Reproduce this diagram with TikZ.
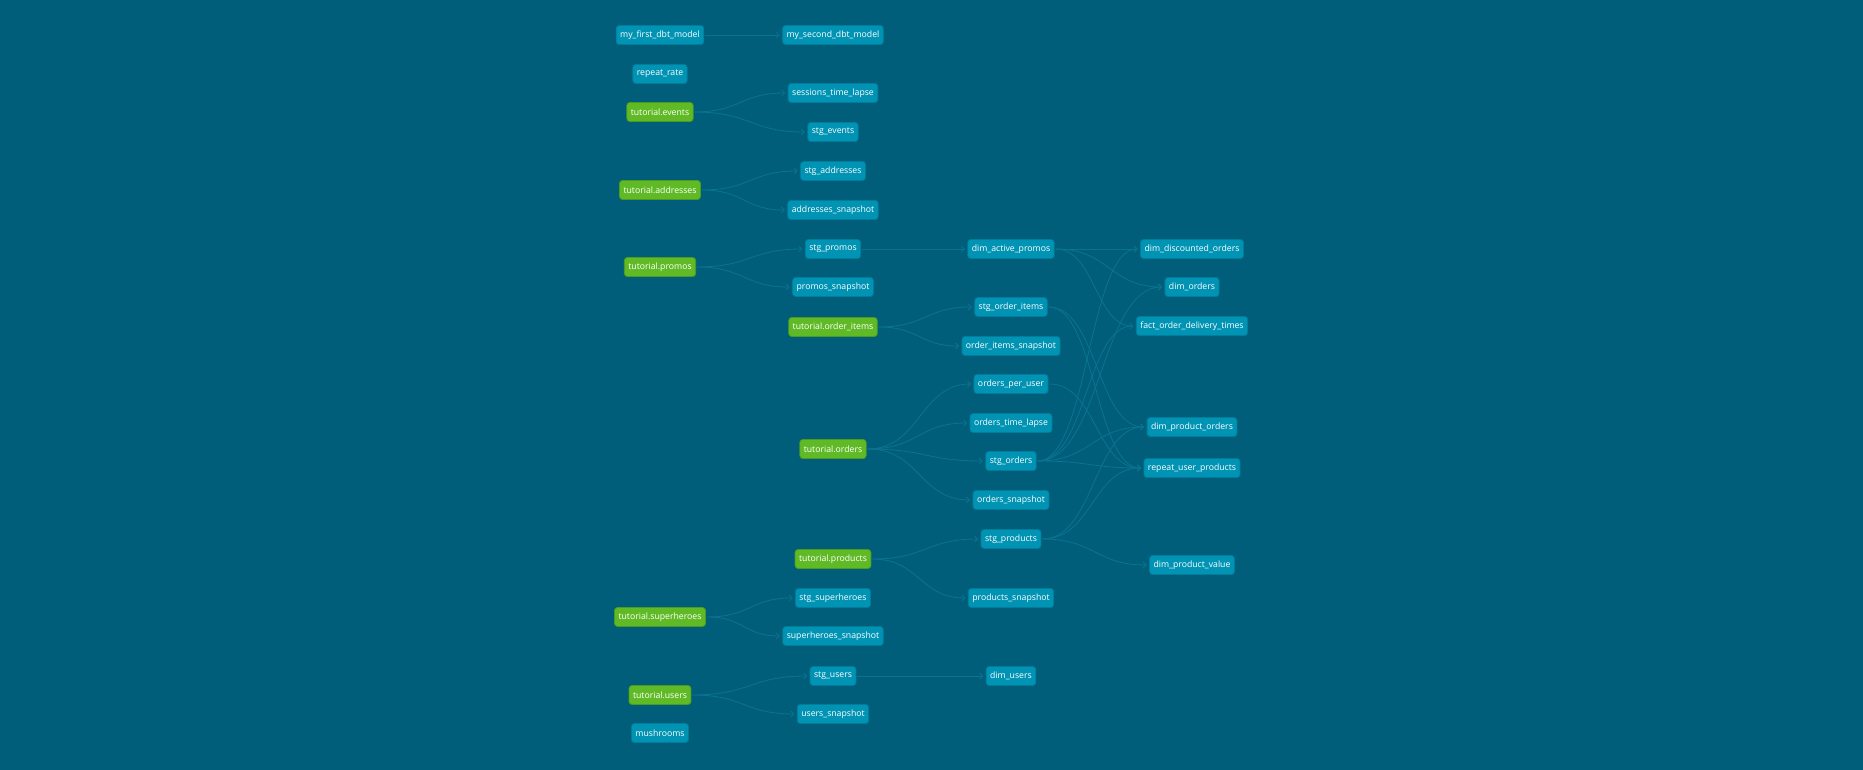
\documentclass[tikz,border=0pt]{standalone}
\usepackage{fontspec}
\setmainfont{Open Sans}
\usetikzlibrary{arrows.meta,calc}
\definecolor{bg}{HTML}{005E7A}
\definecolor{nodeblue}{HTML}{0093B3}
\definecolor{nodeblueborder}{HTML}{007D9A}
\definecolor{nodegreen}{HTML}{5FBA26}
\definecolor{nodegreenborder}{HTML}{4C9A1F}
\definecolor{edgecol}{HTML}{0A7390}
\begin{document}
\begin{tikzpicture}[x=1pt,y=-1pt,
  model/.style={rectangle, rounded corners=3pt, fill=nodeblue, draw=nodeblueborder, line width=0.8pt, text=white, font=\fontsize{8.7}{10}\selectfont, inner xsep=4pt, inner ysep=0pt, minimum height=19pt},
  source/.style={model, fill=nodegreen, draw=nodegreenborder},
  dep/.style={draw=edgecol, line width=0.85pt, -{Straight Barb[length=3pt,width=6pt]}, shorten >=2.5pt, shorten <=1pt},
  sflow/.style={to path={let \p1=(\tikztostart), \p2=(\tikztotarget) in .. controls ({(\x1+\x2)/2},\y1) and ({(\x1+\x2)/2},\y2) .. (\tikztotarget) \tikztonodes}}
]
\fill[bg] (0,0) rectangle (1863,770);
\useasboundingbox (0,0) rectangle (1863,770);

% column 1
\node[model]  (first)   at (660,35)  {my\_first\_dbt\_model};
\node[model]  (repeat)  at (660,74)  {repeat\_rate};
\node[source] (tevents) at (660,112) {tutorial.events};
\node[source] (taddr)   at (660,190) {tutorial.addresses};
\node[source] (tpromos) at (660,267) {tutorial.promos};
\node[source] (tsuper)  at (660,617) {tutorial.superheroes};
\node[source] (tusers)  at (660,695) {tutorial.users};
\node[model]  (mush)    at (660,733) {mushrooms};

% column 2
\node[model]  (second)     at (833,35)  {my\_second\_dbt\_model};
\node[model]  (sessions)   at (833,93)  {sessions\_time\_lapse};
\node[model]  (stgevents)  at (833,132) {stg\_events};
\node[model]  (stgaddr)    at (833,171) {stg\_addresses};
\node[model]  (addrsnap)   at (833,210) {addresses\_snapshot};
\node[model]  (stgpromos)  at (833,249) {stg\_promos};
\node[model]  (promossnap) at (833,287) {promos\_snapshot};
\node[source] (titems)     at (833,327) {tutorial.order\_items};
\node[source] (torders)    at (833,449) {tutorial.orders};
\node[source] (tproducts)  at (833,559) {tutorial.products};
\node[model]  (stgsuper)   at (833,598) {stg\_superheroes};
\node[model]  (supersnap)  at (833,636) {superheroes\_snapshot};
\node[model]  (stgusers)   at (833,676) {stg\_users};
\node[model]  (userssnap)  at (833,714) {users\_snapshot};

% column 3
\node[model] (activepromos) at (1011,249) {dim\_active\_promos};
\node[model] (stgitems)     at (1011,307) {stg\_order\_items};
\node[model] (itemssnap)    at (1011,346) {order\_items\_snapshot};
\node[model] (peruser)      at (1011,384) {orders\_per\_user};
\node[model] (timelapse)    at (1011,423) {orders\_time\_lapse};
\node[model] (stgorders)    at (1011,461) {stg\_orders};
\node[model] (orderssnap)   at (1011,500) {orders\_snapshot};
\node[model] (stgproducts)  at (1011,539) {stg\_products};
\node[model] (prodsnap)     at (1011,598) {products\_snapshot};
\node[model] (dimusers)     at (1011,676) {dim\_users};

% column 4
\node[model] (discounted) at (1192,249) {dim\_discounted\_orders};
\node[model] (dimorders)  at (1192,287) {dim\_orders};
\node[model] (fact)       at (1192,326) {fact\_order\_delivery\_times};
\node[model] (prodorders) at (1192,427) {dim\_product\_orders};
\node[model] (repeatuser) at (1192,468) {repeat\_user\_products};
\node[model] (prodvalue)  at (1192,565) {dim\_product\_value};

% edges
\draw[dep] (first.east) -- (second.west);
\draw[dep] (tevents.east) to[sflow] (sessions.west);
\draw[dep] (tevents.east) to[sflow] (stgevents.west);
\draw[dep] (taddr.east) to[sflow] (stgaddr.west);
\draw[dep] (taddr.east) to[sflow] (addrsnap.west);
\draw[dep] (tpromos.east) to[sflow] (stgpromos.west);
\draw[dep] (tpromos.east) to[sflow] (promossnap.west);
\draw[dep] (stgpromos.east) -- (activepromos.west);
\draw[dep] (titems.east) to[sflow] (stgitems.west);
\draw[dep] (titems.east) to[sflow] (itemssnap.west);
\draw[dep] (torders.east) to[sflow] (peruser.west);
\draw[dep] (torders.east) to[sflow] (timelapse.west);
\draw[dep] (torders.east) to[sflow] (stgorders.west);
\draw[dep] (torders.east) to[sflow] (orderssnap.west);
\draw[dep] (tproducts.east) to[sflow] (stgproducts.west);
\draw[dep] (tproducts.east) to[sflow] (prodsnap.west);
\draw[dep] (tsuper.east) to[sflow] (stgsuper.west);
\draw[dep] (tsuper.east) to[sflow] (supersnap.west);
\draw[dep] (tusers.east) to[sflow] (stgusers.west);
\draw[dep] (tusers.east) to[sflow] (userssnap.west);
\draw[dep] (stgusers.east) -- (dimusers.west);

\draw[dep] (activepromos.east) -- (discounted.west);
\draw[dep] (activepromos.east) to[sflow] (dimorders.west);
\draw[dep] (activepromos.east) to[sflow] (fact.west);
\draw[dep] (stgitems.east) to[sflow] (prodorders.west);
\draw[dep] (stgitems.east) to[sflow] (repeatuser.west);
\draw[dep] (peruser.east) to[sflow] (repeatuser.west);
\draw[dep] (stgorders.east) to[sflow] (discounted.west);
\draw[dep] (stgorders.east) to[sflow] (dimorders.west);
\draw[dep] (stgorders.east) to[sflow] (fact.west);
\draw[dep] (stgorders.east) to[sflow] (prodorders.west);
\draw[dep] (stgorders.east) to[sflow] (repeatuser.west);
\draw[dep] (stgproducts.east) to[sflow] (prodorders.west);
\draw[dep] (stgproducts.east) to[sflow] (repeatuser.west);
\draw[dep] (stgproducts.east) to[sflow] (prodvalue.west);
\end{tikzpicture}
\end{document}
